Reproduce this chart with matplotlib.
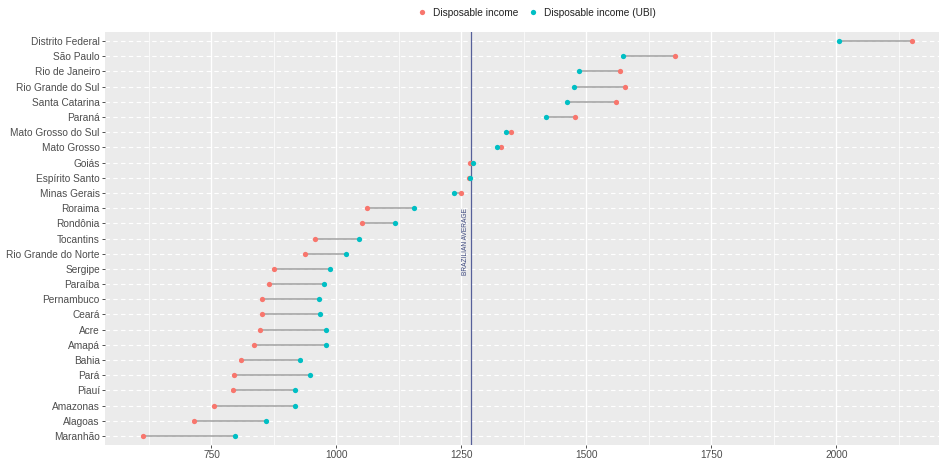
import matplotlib.pyplot as plt
from matplotlib.lines import Line2D
from matplotlib.ticker import MultipleLocator

# --------------------
# Data
# --------------------

states = [
    "Distrito Federal", "São Paulo", "Rio de Janeiro", "Rio Grande do Sul",
    "Santa Catarina", "Paraná", "Mato Grosso do Sul", "Mato Grosso", "Goiás",
    "Espírito Santo", "Minas Gerais", "Roraima", "Rondônia", "Tocantins",
    "Rio Grande do Norte", "Sergipe", "Paraíba", "Pernambuco", "Ceará", "Acre",
    "Amapá", "Bahia", "Pará", "Piauí", "Amazonas", "Alagoas", "Maranhão",
]
income = [
    2151, 1678, 1567, 1577, 1559, 1477, 1349, 1330, 1267, 1265, 1249, 1061,
    1051, 957, 937, 876, 866, 851, 851, 848, 835, 810, 795, 793, 756, 716, 614,
]
income_ubi = [
    2005, 1573, 1486, 1475, 1461, 1420, 1339, 1321, 1273, 1267, 1235, 1155,
    1118, 1046, 1020, 988, 976, 965, 967, 979, 979, 927, 948, 917, 918, 860, 797,
]
brazil_avg = 1270

RED = "#F8766D"
TEAL = "#00BFC4"
TXT = "#4D4D4D"

plt.rcParams["font.family"] = ["Liberation Sans", "DejaVu Sans"]

fig = plt.figure(figsize=(9.39, 4.61), dpi=100)
# panel box in pixels: x 105..939, y 32..445
ax = fig.add_axes([105 / 939, 1 - 445 / 461, 834 / 939, 413 / 461])
ax.set_facecolor("#EBEBEB")

n = len(states)
ypos = [n - 1 - i for i in range(n)]

# grid
ax.xaxis.set_major_locator(MultipleLocator(250))
ax.xaxis.set_minor_locator(MultipleLocator(125))
ax.grid(True, which="major", axis="x", color="white", linewidth=1.0)
ax.grid(True, which="minor", axis="x", color="white", linewidth=0.5)
ax.grid(True, which="major", axis="y", color="white", linewidth=0.8, linestyle=(0, (4, 3)))
ax.set_axisbelow(True)

# segments + points
for y, a, b in zip(ypos, income, income_ubi):
    ax.plot([a, b], [y, y], color="#A0A0A0", linewidth=1.1, zorder=2, solid_capstyle="butt")
ax.plot(income, ypos, "o", color=RED, markersize=3.8, markeredgewidth=0, zorder=3)
ax.plot(income_ubi, ypos, "o", color=TEAL, markersize=3.8, markeredgewidth=0, zorder=4)

# Brazilian average
ax.axvline(brazil_avg, color="#56609A", linewidth=0.9, zorder=1.5)
ax.annotate("BRAZILIAN AVERAGE", xy=(brazil_avg, 12.8), xytext=(-4.5, 0),
            textcoords="offset points", rotation=90, ha="center", va="center",
            fontsize=4.8, color="#3E4A80")

ax.set_xlim(537, 2205)
ax.set_ylim(-0.6, n - 0.4)
ax.set_yticks(ypos)
ax.set_yticklabels(states)
ax.set_xticks([750, 1000, 1250, 1500, 1750, 2000])
ax.tick_params(axis="both", which="major", labelsize=7.3, labelcolor=TXT,
               color="#333333", length=2.5, width=0.6, pad=1.2)
ax.tick_params(axis="x", which="minor", length=0)
for s in ax.spines.values():
    s.set_visible(False)

handles = [
    Line2D([], [], marker="o", linestyle="none", color=RED, markersize=3.8, markeredgewidth=0),
    Line2D([], [], marker="o", linestyle="none", color=TEAL, markersize=3.8, markeredgewidth=0),
]
leg = fig.legend(handles, ["Disposable income", "Disposable income (UBI)"],
                 loc="center", bbox_to_anchor=(536 / 939, 1 - 13 / 461), ncol=2,
                 frameon=False, fontsize=7.3, handlelength=1.2, handletextpad=0.5,
                 columnspacing=0.8)
for t in leg.get_texts():
    t.set_color("#222222")

fig.savefig("out.png", dpi=100)
